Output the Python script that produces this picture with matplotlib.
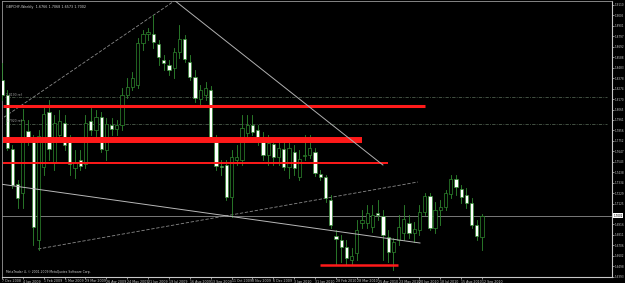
import matplotlib
matplotlib.use("Agg")
import matplotlib.pyplot as plt
from matplotlib.patches import Rectangle

# ---- data (weekly candles, 7 Dec 2008 .. 12 Sep 2010) ----
opens = [1.836,1.821,1.767,1.732,1.723,1.785,1.777,1.676,1.749,1.804,
         1.753,1.781,1.793,1.774,1.748,1.756,1.752,1.795,1.786,1.799,
         1.766,1.791,1.787,1.791,1.821,1.829,1.831,1.873,1.882,1.882,
         1.872,1.856,1.851,1.848,1.864,1.877,1.854,1.839,1.817,1.821,
         1.826,1.778,1.750,1.751,1.719,1.756,1.756,1.783,1.791,1.786,
         1.778,1.761,1.772,1.759,1.767,1.749,1.764,1.739,1.760,1.761,
         1.764,1.742,1.739,1.716,1.680,1.676,1.669,1.656,1.663,1.693,
         1.693,1.689,1.703,1.700,1.679,1.664,1.676,1.683,1.693,1.683,
         1.686,1.704,1.720,1.688,1.706,1.709,1.722,1.737,1.727,1.721,
         1.713,1.691,1.679]
highs = [1.853,1.826,1.771,1.736,1.807,1.796,1.781,1.786,1.811,1.816,
         1.801,1.806,1.801,1.781,1.766,1.766,1.801,1.808,1.806,1.804,
         1.798,1.798,1.796,1.828,1.838,1.844,1.878,1.886,1.888,1.901,
         1.876,1.861,1.856,1.868,1.891,1.881,1.861,1.846,1.831,1.834,
         1.830,1.781,1.756,1.756,1.766,1.771,1.801,1.801,1.801,1.791,
         1.784,1.781,1.778,1.776,1.774,1.776,1.771,1.766,1.781,1.781,
         1.768,1.746,1.741,1.721,1.686,1.681,1.676,1.668,1.696,1.706,
         1.711,1.711,1.716,1.706,1.686,1.678,1.701,1.711,1.701,1.694,
         1.711,1.723,1.723,1.714,1.716,1.726,1.741,1.741,1.731,1.728,
         1.718,1.696,1.7017]
lows = [1.816,1.766,1.728,1.708,1.708,1.771,1.671,1.666,1.741,1.756,
        1.746,1.776,1.766,1.741,1.738,1.746,1.748,1.781,1.776,1.764,
        1.756,1.781,1.781,1.786,1.818,1.826,1.828,1.866,1.876,1.868,
        1.851,1.846,1.841,1.838,1.858,1.854,1.836,1.814,1.811,1.816,
        1.776,1.746,1.741,1.716,1.699,1.751,1.751,1.776,1.781,1.771,
        1.756,1.751,1.751,1.751,1.746,1.738,1.741,1.736,1.756,1.758,
        1.740,1.736,1.714,1.688,1.651,1.654,1.651,1.652,1.656,1.688,
        1.688,1.684,1.696,1.656,1.654,1.646,1.671,1.676,1.678,1.674,
        1.681,1.701,1.686,1.683,1.691,1.706,1.718,1.721,1.713,1.708,
        1.688,1.676,1.666]
closes = [1.821,1.768,1.731,1.718,1.796,1.779,1.689,1.780,1.802,1.767,
          1.793,1.795,1.771,1.752,1.753,1.750,1.793,1.786,1.799,1.767,
          1.792,1.787,1.791,1.821,1.829,1.838,1.873,1.882,1.884,1.874,
          1.859,1.853,1.846,1.864,1.877,1.857,1.839,1.818,1.826,1.828,
          1.779,1.750,1.749,1.719,1.759,1.759,1.788,1.791,1.784,1.778,
          1.761,1.773,1.759,1.768,1.749,1.768,1.748,1.757,1.761,1.768,
          1.743,1.739,1.718,1.691,1.677,1.669,1.658,1.660,1.686,1.696,
          1.703,1.701,1.701,1.681,1.664,1.674,1.689,1.697,1.683,1.687,
          1.704,1.720,1.688,1.706,1.709,1.723,1.737,1.729,1.719,1.713,
          1.691,1.680,1.7002]

date_labels = ["7 Dec 2008","4 Jan 2009","1 Feb 2009","1 Mar 2009","29 Mar 2009",
               "26 Apr 2009","24 May 2009","21 Jun 2009","19 Jul 2009","16 Aug 2009",
               "13 Sep 2009","11 Oct 2009","8 Nov 2009","6 Dec 2009","3 Jan 2010",
               "31 Jan 2010","28 Feb 2010","28 Mar 2010","25 Apr 2010","23 May 2010",
               "20 Jun 2010","18 Jul 2010","15 Aug 2010","12 Sep 2010"]

# horizontal red levels: (price, start bar, end bar)
red_levels = [1.810, 1.7765, 1.7535, 1.651]
red_start = [0.2, 0.2, 0.2, 61.0]
red_end = [81.1, 69.0, 74.0, 75.9]
red_widths = [2.2, 4.3, 1.4, 1.8]

fib_levels = [1.819, 1.792]
fib_texts = ["1.8190 ref", "1.7920 ref"]

last_price = 1.7002
title = "GBPCHF,Weekly  1.6766 1.7068 1.6573 1.7002"

# ---- figure ----
W, H = 625, 283
fig = plt.figure(figsize=(W/100, H/100), dpi=100, facecolor="black")
ax = fig.add_axes([2/W, 1 - 277/H, 610/W, 276/H])
ax.set_facecolor("black")
ax.set_xlim(0, 116.9)
ax.set_ylim(1.639, 1.915)

green = "#2f8a2f"
n = len(opens)
bw = 0.62
for i in range(n):
    o, h, l, c = opens[i], highs[i], lows[i], closes[i]
    ax.plot([i, i], [l, h], color=green, lw=0.6, zorder=3)
    bottom = min(o, c)
    height = max(abs(c - o), 0.0008)
    face = "black" if c >= o else "white"
    ax.add_patch(Rectangle((i - bw/2, bottom), bw, height, facecolor=face,
                           edgecolor=green, lw=0.5, zorder=4))

# red levels
for p, s, e, w in zip(red_levels, red_start, red_end, red_widths):
    ax.plot([s, e], [p, p], color="#ff1a1a", lw=w, solid_capstyle="butt", zorder=5)

# fib-like dash-dot levels
for p, t in zip(fib_levels, fib_texts):
    ax.plot([0.5, 116], [p, p], color="#4d5e4d", lw=0.6, ls=(0, (4, 1.5, 1, 1.5)), zorder=2)
    ax.text(0.8, p + 0.0005, t, color="#a0a0a0", fontsize=2.2, va="bottom", zorder=6)

# trend lines
ax.plot([33.2, 73.0], [1.915, 1.751], color="#b0b0b0", lw=0.7, zorder=6)
ax.plot([-0.4, 33.0], [1.796, 1.915], color="#8a8a8a", lw=0.6, ls=(0, (4, 2)), zorder=2)
ax.plot([6.9, 79.7], [1.667, 1.734], color="#8a8a8a", lw=0.6, ls=(0, (4, 2)), zorder=2)
ax.plot([-0.4, 80.1], [1.732, 1.673], color="#b8b8b8", lw=0.7, zorder=6)

# current price line
ax.axhline(last_price, color="#8c8c8c", lw=0.6, zorder=1)

# axes styling
for s in ["left", "top"]:
    ax.spines[s].set_color("#9a9a9a")
    ax.spines[s].set_linewidth(0.6)
for s in ["right", "bottom"]:
    ax.spines[s].set_color("#c8c8c8")
    ax.spines[s].set_linewidth(0.8)

yt_all = [1.911 - 0.01045*j for j in range(27)]
yt = [v for v in yt_all if abs(v - last_price) > 0.005]
ax.yaxis.tick_right()
ax.set_yticks(yt)
ax.set_yticklabels([f"{v:.4f}" for v in yt])
ax.tick_params(axis="y", colors="#c8c8c8", labelsize=2.0, length=1.2, width=0.5, pad=0.6)

xt = [4*m for m in range(len(date_labels))]
ax.set_xticks(xt)
ax.set_xticklabels(date_labels, ha="left")
ax.tick_params(axis="x", colors="#c8c8c8", labelsize=2.3, length=1.5, width=0.5, pad=0.3)

# highlighted last price label
ax.text(1.0025, last_price, f"{last_price:.4f}", transform=ax.get_yaxis_transform(),
        fontsize=2.0, color="black", va="center", ha="left",
        bbox=dict(boxstyle="square,pad=0.12", facecolor="white", edgecolor="none"),
        clip_on=False, zorder=10)

ax.text(0.006, 0.985, title, transform=ax.transAxes, color="#d0d0d0",
        fontsize=2.4, va="top", ha="left")
ax.text(0.006, 0.012, "MetaTrader 4, \u00a9 2001-2009 MetaQuotes Software Corp.",
        transform=ax.transAxes, color="#d0d0d0", fontsize=2.2, va="bottom", ha="left")

fig.savefig("out.png", dpi=100, facecolor="black")
